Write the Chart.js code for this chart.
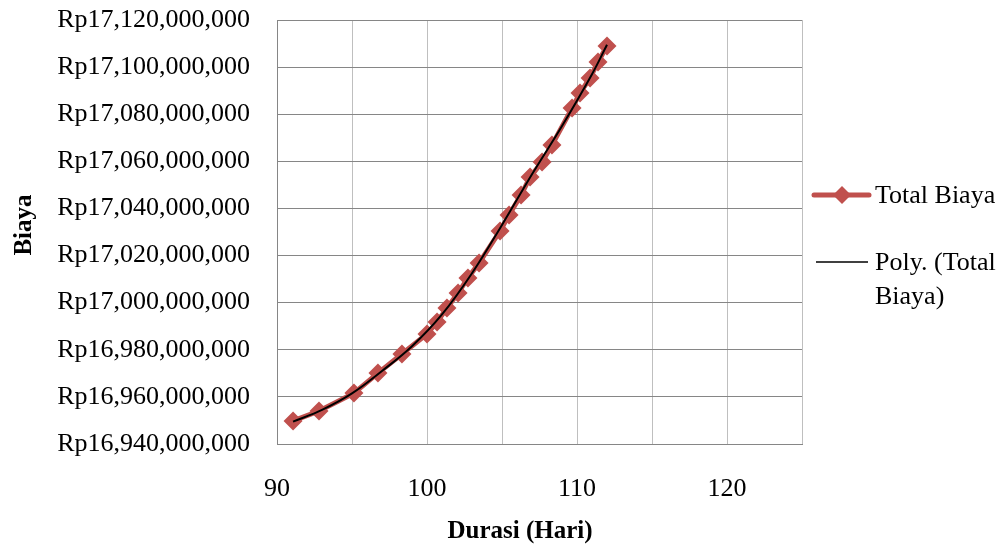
<!DOCTYPE html>
<html>
<head>
<meta charset="utf-8">
<script src="https://cdn.jsdelivr.net/npm/chart.js@4/dist/chart.umd.min.js"></script>
<style>
  html, body { margin: 0; padding: 0; background: #fff; }
  #wrap { width: 1006px; height: 546px; }
</style>
</head>
<body>
<div id="wrap"><canvas id="canvas" width="1006" height="546"></canvas></div>
<script>
// Durasi (hari) vs total biaya (Rp)
const durasi = [91.07, 92.8, 95.13, 96.73, 98.33, 100.0, 100.67, 101.33, 102.07, 102.73, 103.47,
                104.87, 105.47, 106.27, 106.87, 107.67, 108.33, 109.67, 110.2, 110.87, 111.4, 112.0];
const totalBiaya = [16949800000, 16954000000, 16961600000, 16970100000, 16978200000, 16986700000,
                    16991800000, 16997700000, 17004100000, 17010500000, 17016800000, 17030400000,
                    17037200000, 17045700000, 17053300000, 17059700000, 17066900000, 17082600000,
                    17089000000, 17095400000, 17102200000, 17109000000];

// polynomial trendline
const trendX = [91.07, 93, 95, 97, 99, 101, 103, 105, 107, 109, 111, 112];
const trendY = [16949500000, 16954500000, 16961500000, 16971000000, 16981500000, 16995000000,
                17012500000, 17033000000, 17054500000, 17075000000, 17097000000, 17109500000];

const xTicks = [90, 100, 110, 120];
const yMin = 16940000000, yMax = 17120000000, yStep = 20000000;

const RED = '#C0504D';
const FONT = 'Liberation Serif';

function pairs(xs, ys) {
    return xs.map((x, i) => ({ x: x, y: ys[i] }));
}

// axis titles and the legend on the right
const extras = {
    id: 'extras',
    afterDraw(chart) {
        const ctx = chart.ctx;
        ctx.save();
        ctx.fillStyle = '#000';
        ctx.textBaseline = 'middle';

        ctx.font = 'bold 25px "' + FONT + '"';
        ctx.textAlign = 'center';
        ctx.fillText('Durasi (Hari)', 520, 532);
        ctx.save();
        ctx.translate(25, 225);
        ctx.rotate(-Math.PI / 2);
        ctx.fillText('Biaya', 0, 0);
        ctx.restore();

        ctx.font = '26px "' + FONT + '"';
        ctx.textAlign = 'left';

        ctx.strokeStyle = RED;
        ctx.lineWidth = 5;
        ctx.lineCap = 'round';
        ctx.beginPath();
        ctx.moveTo(814, 195);
        ctx.lineTo(869, 195);
        ctx.stroke();
        ctx.fillStyle = RED;
        ctx.beginPath();
        ctx.moveTo(842, 186);
        ctx.lineTo(851, 195);
        ctx.lineTo(842, 204);
        ctx.lineTo(833, 195);
        ctx.closePath();
        ctx.fill();
        ctx.fillStyle = '#000';
        ctx.fillText('Total Biaya', 875, 196);

        ctx.strokeStyle = '#000';
        ctx.lineWidth = 1.5;
        ctx.lineCap = 'butt';
        ctx.beginPath();
        ctx.moveTo(816, 262);
        ctx.lineTo(868, 262);
        ctx.stroke();
        ctx.fillText('Poly. (Total', 875, 263);
        ctx.fillText('Biaya)', 875, 297);
        ctx.restore();
    }
};

const chart = new Chart(document.getElementById('canvas'), {
    type: 'scatter',
    data: {
        datasets: [
            {
                label: 'Poly. (Total Biaya)',
                data: pairs(trendX, trendY),
                showLine: true,
                borderColor: '#000',
                borderWidth: 2,
                pointRadius: 0,
                tension: 0.4,
                order: 0
            },
            {
                label: 'Total Biaya',
                data: pairs(durasi, totalBiaya),
                showLine: true,
                borderColor: RED,
                backgroundColor: RED,
                borderWidth: 5,
                pointStyle: 'rectRot',
                pointRadius: 9.5,
                pointBorderWidth: 0,
                order: 1
            }
        ]
    },
    options: {
        responsive: false,
        animation: false,
        layout: { padding: { left: 0, top: 20, right: 204, bottom: 0 } },
        plugins: {
            legend: { display: false },
            tooltip: { enabled: false }
        },
        scales: {
            x: {
                type: 'linear',
                min: 90,
                max: 125,
                afterFit: (scale) => {
                    scale.height = 102;
                    scale.paddingLeft = 0;
                    scale.paddingRight = 0;
                },
                afterBuildTicks: (scale) => {
                    const t = [];
                    for (let v = 90; v <= 125; v += 5) t.push({ value: v });
                    scale.ticks = t;
                },
                ticks: {
                    autoSkip: false,
                    maxRotation: 0,
                    padding: 30,
                    color: '#000',
                    font: { family: FONT, size: 26 },
                    callback: (v) => xTicks.includes(v) ? String(v) : ''
                },
                grid: {
                    drawTicks: false,
                    color: (c) => c.index === 0 ? '#868686' : '#BFBFBF'
                },
                border: { color: '#868686', width: 1 }
            },
            y: {
                min: yMin,
                max: yMax,
                afterFit: (scale) => {
                    scale.width = 277;
                    scale.paddingTop = 0;
                    scale.paddingBottom = 0;
                },
                ticks: {
                    stepSize: yStep,
                    padding: 27,
                    color: '#000',
                    font: { family: FONT, size: 26 },
                    callback: (v) => 'Rp' + v.toLocaleString('en-US')
                },
                grid: { drawTicks: false, color: '#868686' },
                border: { color: '#868686', width: 1 }
            }
        }
    },
    plugins: [extras]
});
</script>
</body>
</html>
